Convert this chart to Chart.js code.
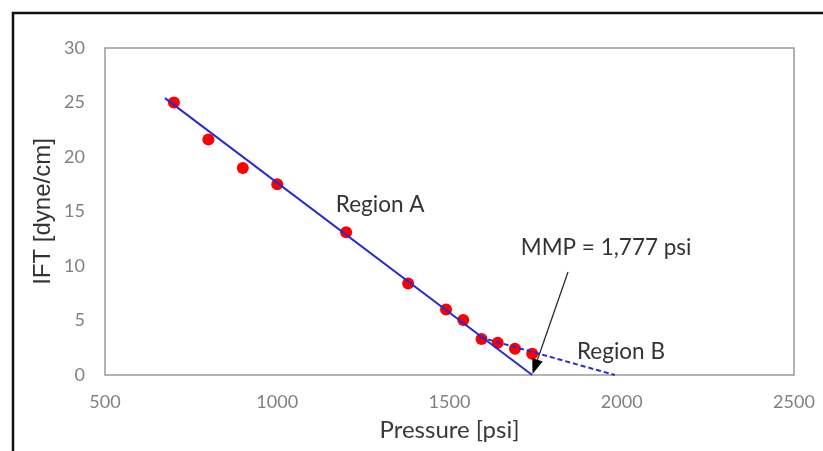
<!DOCTYPE html>
<html lang="en">
<head>
    <meta charset="UTF-8">
    <title>IFT vs Pressure</title>
    <script src="https://cdn.jsdelivr.net/npm/chart.js@4/dist/chart.umd.min.js"></script>
    <style>
        html, body { margin: 0; padding: 0; background: #fff; }
        #wrap { width: 823px; height: 451px; position: relative; }
    </style>
</head>
<body>
    <div id="wrap"><canvas id="iftChart" width="823" height="451"></canvas></div>

    <script>
        // measured IFT points
        const pressure = [700, 800, 900, 1000, 1200, 1380, 1490, 1540, 1593, 1640, 1690, 1740];
        const ift = [25.0, 21.6, 19.0, 17.5, 13.1, 8.4, 6.0, 5.05, 3.3, 2.95, 2.4, 1.95];

        // fitted lines (region A solid, region B dashed)
        const regionAx = [674, 1740];
        const regionAy = [25.4, 0];
        const regionBx = [1590, 1980];
        const regionBy = [3.45, 0];

        const xTicks = [500, 1000, 1500, 2000, 2500];
        const yTicks = [0, 5, 10, 15, 20, 25, 30];

        // text labels + arrow, in data units
        const notes = [
            { text: 'Region A', x: 1170, y: 15.6 },
            { text: 'MMP = 1,777 psi', x: 1707, y: 11.65 },
            { text: 'Region B', x: 1870, y: 2.1 }
        ];
        const arrowFrom = [1844, 9.45];
        const arrowTo = [1741, 0.1];

        const toPts = (xs, ys) => xs.map((x, i) => ({ x: x, y: ys[i] }));

        const extras = {
            id: 'extras',
            beforeDraw(chart) {
                const c = chart.ctx;
                c.save();
                c.fillStyle = '#fff';
                c.fillRect(0, 0, chart.width, chart.height);
                // outer frame
                c.strokeStyle = '#111';
                c.lineWidth = 2.5;
                c.beginPath();
                c.moveTo(13, chart.height + 2);
                c.lineTo(13, 13);
                c.lineTo(chart.width + 2, 13);
                c.stroke();
                // plot border
                const a = chart.chartArea;
                c.strokeStyle = '#9a9a9a';
                c.lineWidth = 1.5;
                c.strokeRect(a.left, a.top, a.right - a.left, a.bottom - a.top);
                c.restore();
            },
            afterDatasetsDraw(chart) {
                const c = chart.ctx;
                const xs = chart.scales.x, ys = chart.scales.y;
                c.save();
                c.fillStyle = '#333';
                c.font = '22.5px Lato, "Open Sans", sans-serif';
                c.textBaseline = 'middle';
                c.textAlign = 'left';
                notes.forEach(n => c.fillText(n.text, xs.getPixelForValue(n.x), ys.getPixelForValue(n.y)));

                // arrow
                const x1 = xs.getPixelForValue(arrowFrom[0]), y1 = ys.getPixelForValue(arrowFrom[1]);
                const x2 = xs.getPixelForValue(arrowTo[0]), y2 = ys.getPixelForValue(arrowTo[1]);
                const ang = Math.atan2(y2 - y1, x2 - x1);
                const headLen = 15, headW = 5.5;
                const bx = x2 - headLen * Math.cos(ang), by = y2 - headLen * Math.sin(ang);
                c.strokeStyle = '#222';
                c.lineWidth = 1.2;
                c.beginPath();
                c.moveTo(x1, y1);
                c.lineTo(bx, by);
                c.stroke();
                c.fillStyle = '#000';
                c.beginPath();
                c.moveTo(x2, y2);
                c.lineTo(bx + headW * Math.sin(ang), by - headW * Math.cos(ang));
                c.lineTo(bx - headW * Math.sin(ang), by + headW * Math.cos(ang));
                c.closePath();
                c.fill();
                c.restore();
            }
        };

        new Chart(document.getElementById('iftChart'), {
            type: 'scatter',
            data: {
                datasets: [
                    {
                        type: 'line',
                        data: toPts(regionAx, regionAy),
                        borderColor: '#2a2ad0',
                        borderWidth: 2,
                        pointRadius: 0,
                        clip: false
                    },
                    {
                        type: 'line',
                        data: toPts(regionBx, regionBy),
                        borderColor: '#2a2ad0',
                        borderWidth: 2,
                        borderDash: [5, 3],
                        pointRadius: 0,
                        clip: false
                    },
                    {
                        data: toPts(pressure, ift),
                        backgroundColor: '#ff0000',
                        borderColor: '#ff0000',
                        pointRadius: 6,
                        borderWidth: 0,
                        clip: false
                    }
                ]
            },
            options: {
                responsive: false,
                animation: false,
                events: [],
                layout: { autoPadding: false, padding: { top: 48, right: 29, left: 0, bottom: 0 } },
                plugins: { legend: { display: false }, tooltip: { enabled: false } },
                scales: {
                    x: {
                        type: 'linear',
                        min: 500,
                        max: 2500,
                        afterFit: s => { s.height = 76; s.paddingLeft = 0; s.paddingRight = 0; },
                        afterBuildTicks: s => { s.ticks = xTicks.map(v => ({ value: v })); },
                        grid: { display: false, drawTicks: false },
                        border: { display: false },
                        ticks: {
                            padding: 16,
                            color: '#808080',
                            callback: v => String(v),
                            font: { family: 'Lato, "Open Sans", sans-serif', size: 18 }
                        },
                        title: {
                            display: true,
                            text: 'Pressure [psi]',
                            color: '#3a3a3a',
                            font: { family: 'Lato, "Open Sans", sans-serif', size: 24 },
                            padding: { top: 0, bottom: 6 }
                        }
                    },
                    y: {
                        type: 'linear',
                        min: 0,
                        max: 30,
                        afterFit: s => { s.width = 105; s.paddingTop = 0; s.paddingBottom = 0; },
                        afterBuildTicks: s => { s.ticks = yTicks.map(v => ({ value: v })); },
                        grid: { display: false, drawTicks: false },
                        border: { display: false },
                        ticks: {
                            padding: 20,
                            color: '#808080',
                            callback: v => String(v),
                            font: { family: 'Lato, "Open Sans", sans-serif', size: 18 }
                        },
                        title: {
                            display: true,
                            text: 'IFT [dyne/cm]',
                            color: '#333',
                            font: { family: '"Liberation Sans", Arial, sans-serif', size: 24 },
                            padding: { top: 29, bottom: 0 }
                        }
                    }
                }
            },
            plugins: [extras]
        });
    </script>
</body>
</html>
